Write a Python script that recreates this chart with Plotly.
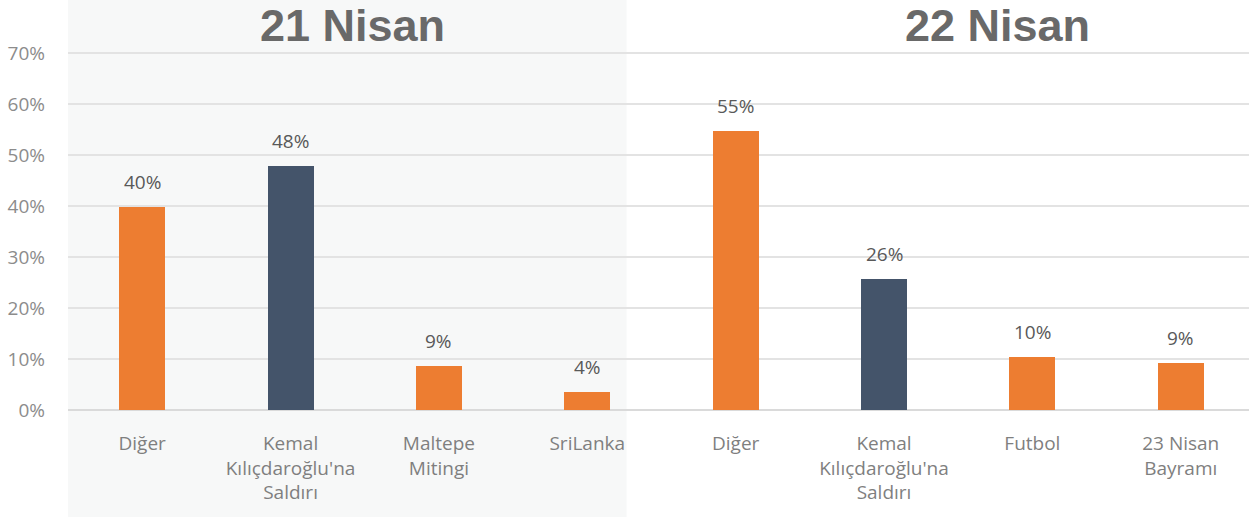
import plotly.graph_objects as go

categories = ["Diğer", "Kemal<br>Kılıçdaroğlu'na<br>Saldırı", "Maltepe<br>Mitingi", "SriLanka",
              "Diğer", "Kemal<br>Kılıçdaroğlu'na<br>Saldırı", "Futbol", "23 Nisan<br>Bayramı"]
values = [39.8, 47.9, 8.6, 3.5, 54.8, 25.6, 10.4, 9.2]
labels = ["40%", "48%", "9%", "4%", "55%", "26%", "10%", "9%"]
colors = ["#ED7D31", "#44546A", "#ED7D31", "#ED7D31", "#ED7D31", "#44546A", "#ED7D31", "#ED7D31"]
panel_titles = ["21 Nisan", "22 Nisan"]
y_ticks = [0, 10, 20, 30, 40, 50, 60, 70]

positions = list(range(len(categories)))

fig = go.Figure()
fig.add_trace(go.Bar(
    x=positions, y=values, width=0.31,
    marker=dict(color=colors, line=dict(width=0)),
    hoverinfo="skip",
))

for p, v, t in zip(positions, values, labels):
    fig.add_annotation(x=p, y=v, text=t, showarrow=False, yanchor="bottom", yshift=10,
                       font=dict(family="Open Sans", size=19, color="#595959"))

fig.add_shape(type="rect", xref="paper", yref="paper", x0=0, x1=0.473, y0=-0.31, y1=1.16,
              fillcolor="#F7F8F8", line=dict(width=0), layer="below")

fig.add_annotation(text="<b>" + panel_titles[0] + "</b>", xref="paper", yref="paper",
                   x=0.241, y=1.073, showarrow=False, xanchor="center", yanchor="middle",
                   font=dict(family="Liberation Sans", size=45, color="#696969"))
fig.add_annotation(text="<b>" + panel_titles[1] + "</b>", xref="paper", yref="paper",
                   x=0.787, y=1.073, showarrow=False, xanchor="center", yanchor="middle",
                   font=dict(family="Liberation Sans", size=45, color="#696969"))

fig.update_layout(
    width=1249, height=517,
    margin=dict(l=68, r=0, t=52, b=107),
    paper_bgcolor="white", plot_bgcolor="rgba(0,0,0,0)",
    showlegend=False,
    xaxis=dict(range=[-0.5, 7.46], tickmode="array", tickvals=positions, ticktext=categories,
               showgrid=False, zeroline=False, showline=False,
               tickfont=dict(family="Open Sans", size=19, color="#7F7F7F"),
               ticks="outside", ticklen=16, tickcolor="rgba(0,0,0,0)"),
    yaxis=dict(range=[0, 70.2], tickmode="array", tickvals=y_ticks,
               ticktext=[f"{v}%" for v in y_ticks],
               showgrid=True, gridcolor="#E3E3E3", gridwidth=1.5,
               zeroline=True, zerolinecolor="#DADADA", zerolinewidth=1.5,
               showline=False, ticklabelstandoff=22,
               tickfont=dict(family="Open Sans", size=19, color="#8C8C8C")),
    bargap=0,
)

fig.write_html("out.html", config={"displayModeBar": False},
               post_script="document.body.style.margin='0';")
